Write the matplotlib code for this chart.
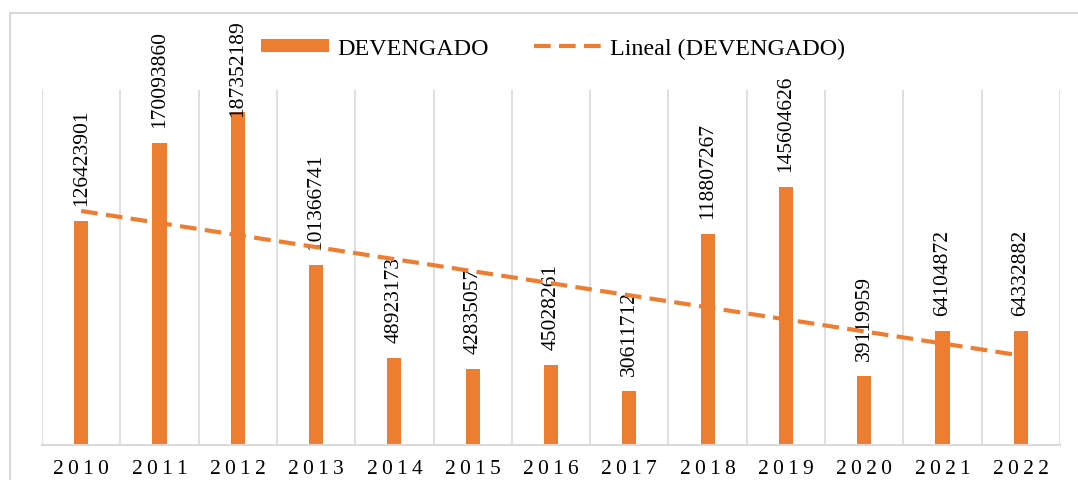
import numpy as np
import matplotlib.pyplot as plt
from matplotlib.patches import Rectangle

years = ['2010', '2011', '2012', '2013', '2014', '2015', '2016',
         '2017', '2018', '2019', '2020', '2021', '2022']
devengado = [126423901, 170093860, 187352189, 101366741, 48923173, 42835057,
             45028261, 30611712, 118807267, 145604626, 39119959, 64104872,
             64332882]

orange = '#ED7D31'
grid = '#D9D9D9'
plt.rcParams['font.family'] = ['Liberation Serif', 'DejaVu Serif']

fig = plt.figure(figsize=(10.78, 4.81), dpi=100)
ax = fig.add_axes([0.039, 0.0728, 0.9443, 0.738])

# outer chart frame (runs off the right and bottom edges)
fig.patches.append(Rectangle((9.5 / 1078, -0.1), 1.2, 1.1 - 13.5 / 481,
                             transform=fig.transFigure, fill=False,
                             edgecolor=grid, linewidth=1.5))

x = np.arange(len(years))
bars = ax.bar(x, devengado, width=0.18, color=orange, zorder=2,
              label='DEVENGADO')

# linear trend
m, b = np.polyfit(x, devengado, 1)
trend, = ax.plot(x, m * x + b, color=orange, linewidth=3,
                 linestyle=(0, (4, 2)), zorder=4, label='Lineal (DEVENGADO)')

ax.set_xlim(-0.5, len(years) - 0.5)
ax.set_ylim(0, 200000000)

# vertical gridlines between the categories
for gx in np.arange(-0.5, len(years), 1.0):
    ax.axvline(gx, color=grid, linewidth=1.2, zorder=1)

for s in ['top', 'right', 'left']:
    ax.spines[s].set_visible(False)
ax.spines['bottom'].set_color(grid)
ax.spines['bottom'].set_linewidth(1.5)
ax.set_yticks([])
ax.set_xticks(x)
ax.set_xticklabels(['\u2009'.join(y) for y in years], fontsize=15.5)
ax.tick_params(axis='x', length=0, pad=10)

# rotated value labels, kept inside the chart area
fig.canvas.draw()
renderer = fig.canvas.get_renderer()
top_limit = 481 - 20
for xi, v in zip(x, devengado):
    t = ax.annotate(str(v), (xi, v), xytext=(0, 11.5),
                    textcoords='offset points', rotation=90,
                    ha='center', va='bottom', fontsize=15.5, zorder=3)
    bb = t.get_window_extent(renderer)
    if bb.y1 > top_limit:
        shift = (bb.y1 - top_limit) * 72 / fig.dpi
        t.set_position((0, 11.5 - shift))

fig.legend(handles=[bars, trend], loc='center',
           bbox_to_anchor=(0.513, 0.897), ncol=2, frameon=False,
           fontsize=17.3, handlelength=2.85, handleheight=0.5,
           columnspacing=1.9, handletextpad=0.33)

fig.savefig('out.png', dpi=100)
